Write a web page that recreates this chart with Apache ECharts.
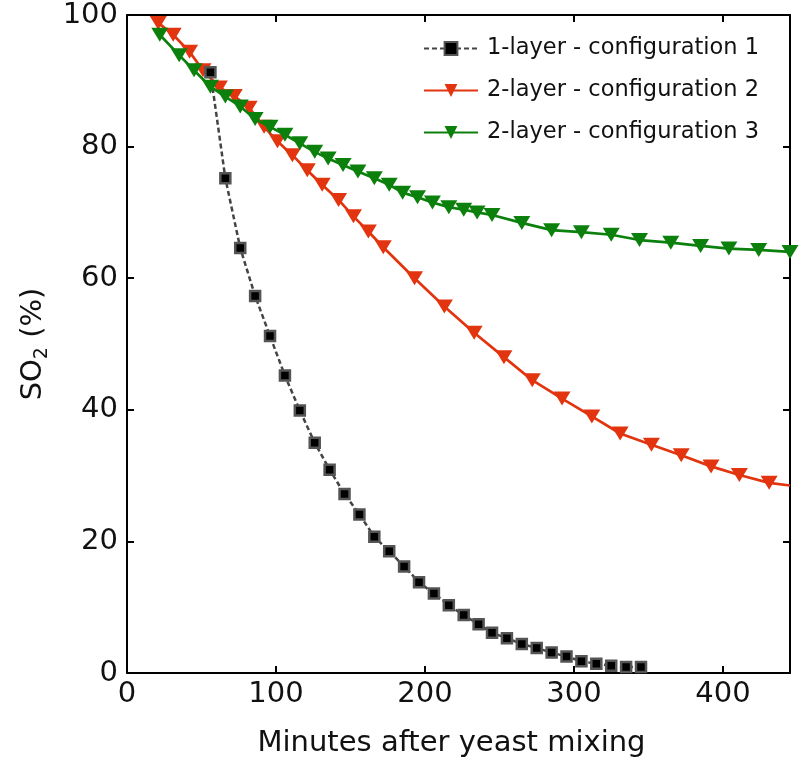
<!DOCTYPE html>
<html>
<head>
<meta charset="utf-8">
<title>SO2 vs time</title>
<script src="https://cdn.jsdelivr.net/npm/echarts@6/dist/echarts.min.js"></script>
<style>
  html, body { margin: 0; padding: 0; background: #fff; }
  #chart { width: 800px; height: 776px; }
</style>
</head>
<body>
<div id="chart"></div>
<script>
// series names
var names = ['1-layer - configuration 1', '2-layer - configuration 2', '2-layer - configuration 3'];

// 1-layer - configuration 1 (minutes, SO2 %)
var x1 = [56, 66, 76, 86, 96, 106, 116, 126, 136, 146, 156, 166, 176, 186, 196, 206, 216, 226, 236, 245,
          255, 265, 275, 285, 295, 305, 315, 325, 335, 345];
var y1 = [91.3, 75.2, 64.6, 57.3, 51.2, 45.2, 39.9, 35.0, 30.9, 27.2, 24.1, 20.7, 18.5, 16.2, 13.8, 12.1, 10.3, 8.8, 7.4, 6.1,
          5.3, 4.4, 3.8, 3.1, 2.5, 1.8, 1.4, 1.1, 0.9, 0.9];

// 2-layer - configuration 2
var x2 = [21, 31, 42, 51, 62, 72, 82, 92, 101, 111, 121, 131, 142, 152, 162, 172,
          193, 213, 233, 253, 272, 292, 312, 331, 352, 372, 392, 411, 431, 445];
var y2 = [98.8, 97.0, 94.4, 91.6, 89.0, 87.7, 85.9, 83.0, 80.8, 78.7, 76.4, 74.2, 71.9, 69.4, 67.1, 64.7,
          60.0, 55.7, 51.7, 48.0, 44.5, 41.7, 39.0, 36.4, 34.7, 33.1, 31.4, 30.1, 28.9, 28.5];

// 2-layer - configuration 3
var x3 = [22, 35, 45, 56, 66, 76, 86, 96, 106, 116, 126, 135, 145, 155, 166, 176, 185, 195, 205, 216, 226, 235, 245,
          265, 285, 305, 325, 344, 365, 385, 404, 424, 445];
var y3 = [97.0, 93.9, 91.6, 89.1, 87.6, 86.1, 84.2, 83.0, 81.8, 80.5, 79.2, 78.2, 77.2, 76.2, 75.2, 74.2, 73.0, 72.3, 71.5, 70.8, 70.4, 70.0, 69.6,
          68.4, 67.3, 67.0, 66.6, 65.8, 65.4, 64.9, 64.5, 64.3, 64.0];

var xTicks = [0, 100, 200, 300, 400];
var yTicks = [0, 20, 40, 60, 80, 100];

function pairs(xs, ys) {
    return xs.map(function (x, i) { return [x, ys[i]]; });
}

var font = 'DejaVu Sans';
var myChart = echarts.init(document.getElementById('chart'));

var axisLine = { show: true, onZero: false, lineStyle: { color: '#000', width: 2 } };
var axisTick = { show: true, inside: true, length: 7, lineStyle: { color: '#000', width: 2 } };

var option = {
    backgroundColor: '#fff',
    animation: false,
    grid: { left: 127, right: 10, top: 15, bottom: 103, containLabel: false },
    legend: {
        orient: 'vertical',
        left: 418,
        top: 32,
        itemWidth: 54,
        itemHeight: 16,
        itemGap: 19,
        data: names,
        textStyle: { fontFamily: font, fontSize: 22.5, color: '#111', padding: [0, 0, 0, 4] }
    },
    xAxis: [
        {
            type: 'value',
            min: 0,
            max: 445,
            interval: 100,
            name: 'Minutes after yeast mixing',
            nameLocation: 'middle',
            nameGap: 56,
            nameTextStyle: { fontFamily: font, fontSize: 29, color: '#111', padding: [0, 14, 0, 0] },
            axisLine: axisLine,
            axisTick: axisTick,
            splitLine: { show: false },
            axisLabel: {
                fontFamily: font, fontSize: 29, color: '#111', margin: 7, showMaxLabel: false,
                formatter: function (v) { return xTicks.indexOf(v) >= 0 ? String(v) : ''; }
            }
        },
        {
            type: 'value', position: 'top', min: 0, max: 445, interval: 100,
            axisLine: axisLine, axisTick: axisTick, axisLabel: { show: false }, splitLine: { show: false }
        }
    ],
    yAxis: [
        {
            type: 'value',
            min: 0,
            max: 100,
            interval: 20,
            name: '{a|SO}{b|2}{a| (%)}',
            nameLocation: 'middle',
            nameGap: 72,
            nameRotate: 90,
            nameTextStyle: {
                rich: {
                    a: { fontFamily: font, fontSize: 29, color: '#111', lineHeight: 34, verticalAlign: 'middle' },
                    b: { fontFamily: font, fontSize: 19, color: '#111', lineHeight: 34, padding: [18, 0, 0, 0], verticalAlign: 'middle' }
                }
            },
            axisLine: axisLine,
            axisTick: axisTick,
            splitLine: { show: false },
            axisLabel: {
                fontFamily: font, fontSize: 29, color: '#111', margin: 9,
                formatter: function (v) { return yTicks.indexOf(v) >= 0 ? String(v) : ''; }
            }
        },
        {
            type: 'value', position: 'right', min: 0, max: 100, interval: 20,
            axisLine: axisLine, axisTick: axisTick, axisLabel: { show: false }, splitLine: { show: false }
        }
    ],
    series: [
        {
            name: names[0],
            type: 'line',
            data: pairs(x1, y1),
            symbol: 'rect',
            symbolSize: 10,
            showAllSymbol: true,
            lineStyle: { color: '#444', width: 2.5, type: [5, 3] },
            itemStyle: { color: '#000', borderColor: '#555', borderWidth: 2.5 },
            z: 3
        },
        {
            name: names[1],
            type: 'line',
            data: pairs(x2, y2),
            symbol: 'triangle',
            symbolRotate: 180,
            symbolSize: function (val, params) {
                // last point sits on the axis edge with no visible marker
                return params.dataIndex === x2.length - 1 ? 0 : [17, 14];
            },
            showAllSymbol: true,
            lineStyle: { color: '#e2340e', width: 2.7 },
            itemStyle: { color: '#e2340e' },
            z: 2
        },
        {
            name: names[2],
            type: 'line',
            data: pairs(x3, y3),
            symbol: 'triangle',
            symbolRotate: 180,
            symbolSize: [17, 14],
            showAllSymbol: true,
            lineStyle: { color: '#0c800c', width: 2.7 },
            itemStyle: { color: '#0c800c' },
            z: 4
        }
    ]
};

myChart.setOption(option);
window.addEventListener('resize', function () {
    myChart.resize();
});
</script>
</body>
</html>
